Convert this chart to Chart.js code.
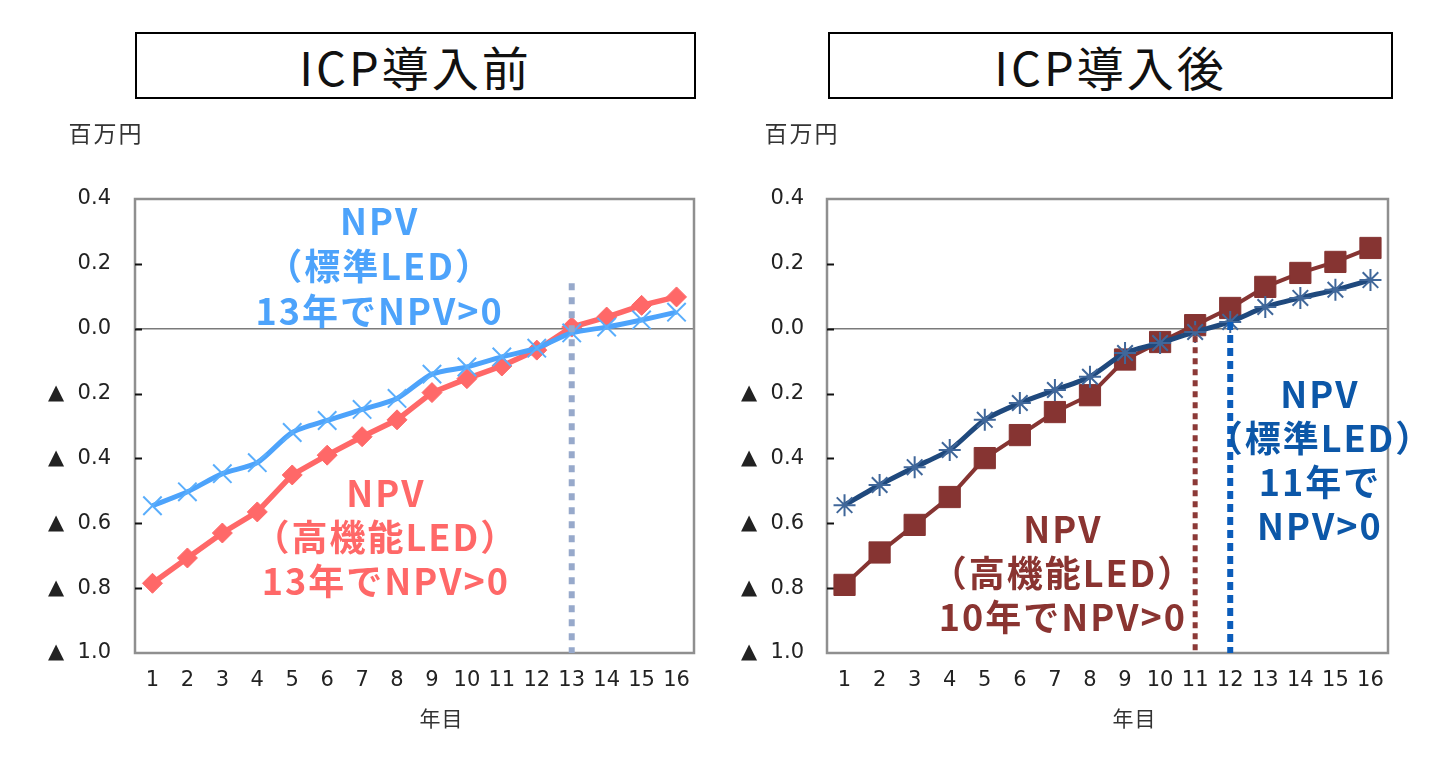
<!DOCTYPE html>
<html lang="ja">
<head>
<meta charset="utf-8">
<title>ICP導入前後のNPV</title>
<script src="https://cdn.jsdelivr.net/npm/chart.js@4.4.1/dist/chart.umd.min.js"></script>
<style>
    body { margin: 0; width: 1444px; height: 759px; background: #fff; position: relative; overflow: hidden;
           font-family: "Noto Sans CJK JP", sans-serif; }
    .title-box { position: absolute; top: 32px; height: 67px; box-sizing: border-box; border: 2px solid #000;
                 display: flex; align-items: center; justify-content: center; font-size: 47px; letter-spacing: 3px;
                 color: #111; }
    canvas { position: absolute; top: 0; }
</style>
</head>
<body>
<div class="title-box" style="left:135px; width:561px;">ICP導入前</div>
<div class="title-box" style="left:828px; width:565px;">ICP導入後</div>
<canvas id="beforeChart" width="722" height="759" style="left:0"></canvas>
<canvas id="afterChart" width="722" height="759" style="left:722px"></canvas>
<script>
// data (百万円)
const years = ['1','2','3','4','5','6','7','8','9','10','11','12','13','14','15','16'];
const yTickValues = [0.4, 0.2, 0, -0.2, -0.4, -0.6, -0.8, -1.0];

// ICP導入前
const beforeStandard = [-0.546, -0.503, -0.447, -0.413, -0.32, -0.283, -0.249, -0.215, -0.14, -0.118, -0.087, -0.06, -0.013, 0.005, 0.027, 0.051];
const beforeHighPerf = [-0.785, -0.707, -0.63, -0.565, -0.451, -0.39, -0.333, -0.281, -0.197, -0.154, -0.115, -0.066, 0.005, 0.036, 0.072, 0.098];

// ICP導入後
const afterStandard = [-0.544, -0.482, -0.427, -0.374, -0.281, -0.229, -0.189, -0.148, -0.075, -0.044, -0.01, 0.021, 0.067, 0.095, 0.12, 0.15];
const afterHighPerf = [-0.79, -0.69, -0.605, -0.519, -0.399, -0.328, -0.257, -0.205, -0.095, -0.041, 0.011, 0.064, 0.129, 0.172, 0.206, 0.249];

const tickFont = { family: '"DejaVu Sans", Verdana, sans-serif', size: 21 };
const noteFont = 'bold 36px "Noto Sans CJK JP", sans-serif';

// frame, inner ticks, guides, notes, unit labels
const decorPlugin = {
    id: 'decor',
    beforeDatasetsDraw(chart, args, opts) {
        const { ctx, chartArea: a, scales: { y } } = chart;
        ctx.save();
        ctx.strokeStyle = '#8f8f8f';
        ctx.lineWidth = 2.5;
        ctx.strokeRect(a.left, a.top, a.right - a.left, a.bottom - a.top);
        ctx.strokeStyle = '#111';
        ctx.lineWidth = 2;
        yTickValues.slice(1, -1).forEach(v => {
            const py = Math.round(y.getPixelForValue(v)) + 0.5;
            ctx.beginPath();
            ctx.moveTo(a.left, py);
            ctx.lineTo(a.left + 7, py);
            ctx.stroke();
        });
        ctx.restore();
    },
    afterDatasetsDraw(chart, args, opts) {
        const { ctx, chartArea: a, scales: { x, y } } = chart;
        ctx.save();
        (opts.guides || []).forEach(g => {
            const px = x.getPixelForValue(g.index);
            ctx.strokeStyle = g.color;
            ctx.lineWidth = g.width;
            ctx.setLineDash(g.dash);
            ctx.beginPath();
            ctx.moveTo(px, y.getPixelForValue(g.from));
            ctx.lineTo(px, a.bottom);
            ctx.stroke();
        });
        ctx.setLineDash([]);
        ctx.font = noteFont;
        ctx.letterSpacing = '2px';
        ctx.textAlign = 'center';
        ctx.textBaseline = 'middle';
        (opts.notes || []).forEach(n => {
            ctx.fillStyle = n.color;
            const cx = x.getPixelForValue(n.index);
            const cy = y.getPixelForValue(n.value);
            n.lines.forEach((line, i) => ctx.fillText(line, cx, cy + i * n.gap));
        });
        ctx.fillStyle = '#333';
        ctx.font = '23px "Noto Sans CJK JP", sans-serif';
        ctx.letterSpacing = '2px';
        ctx.fillText('百万円', a.left - opts.unitShift, 133);
        ctx.font = '21px "Noto Sans CJK JP", sans-serif';
        ctx.letterSpacing = '1px';
        ctx.fillText('年目', (a.left + a.right) / 2 + 27, 718);
        ctx.restore();
    }
};

function makeChart(canvasId, datasets, axisWidth, rightPad, labelPad, decor) {
    return new Chart(document.getElementById(canvasId), {
        type: 'line',
        data: { labels: years, datasets: datasets },
        options: {
            responsive: false,
            animation: false,
            layout: { padding: { top: 199, right: rightPad, bottom: 0, left: 0 } },
            plugins: { legend: { display: false }, tooltip: { enabled: false }, decor: decor },
            scales: {
                x: {
                    offset: true,
                    grid: { display: false, drawTicks: false },
                    border: { display: false },
                    ticks: { color: '#222', font: tickFont, padding: 15, maxRotation: 0, autoSkip: false },
                    afterFit: s => { s.height = 106; }
                },
                y: {
                    min: -1.0,
                    max: 0.4,
                    afterBuildTicks: s => { s.ticks = yTickValues.map(v => ({ value: v })); },
                    grid: {
                        drawTicks: false,
                        lineWidth: 1.5,
                        color: c => Math.abs(c.tick.value) < 1e-9 ? '#7a7a7a' : 'rgba(0,0,0,0)'
                    },
                    border: { display: false },
                    ticks: {
                        color: '#222', font: tickFont, padding: labelPad,
                        callback: v => v < -1e-9 ? '▲  ' + Math.abs(v).toFixed(1) : Math.abs(v).toFixed(1)
                    },
                    afterFit: s => { s.width = axisWidth; }
                }
            }
        },
        plugins: [decorPlugin]
    });
}

makeChart('beforeChart', [
    {
        label: 'NPV(標準LED)', data: beforeStandard,
        borderColor: '#4da3fb', backgroundColor: '#4da3fb', borderWidth: 5, tension: 0.25,
        pointStyle: 'crossRot', pointRadius: 13, pointBorderWidth: 2, pointBorderColor: '#5aaefc'
    },
    {
        label: 'NPV(高機能LED)', data: beforeHighPerf,
        borderColor: '#ff6868', backgroundColor: '#ff6868', borderWidth: 5.5, tension: 0,
        pointStyle: 'rectRot', pointRadius: 10, pointBorderWidth: 1
    }
], 135, 28, 24, {
    unitShift: 29,
    guides: [{ index: 12, from: 0.14, color: '#97a9cb', width: 6, dash: [7, 7] }],
    notes: [
        { index: 6.5, value: 0.332, gap: 45, color: '#4da3fb', lines: ['NPV', '（標準LED）', '13年でNPV>0'] },
        { index: 6.68, value: -0.507, gap: 44, color: '#ff6868', lines: ['NPV', '（高機能LED）', '13年でNPV>0'] }
    ]
});

makeChart('afterChart', [
    {
        label: 'NPV(標準LED)', data: afterStandard,
        borderColor: '#1f497d', backgroundColor: '#1f497d', borderWidth: 5, tension: 0.25,
        pointStyle: 'star', pointRadius: 11, pointBorderWidth: 2, pointBorderColor: '#40679a'
    },
    {
        label: 'NPV(高機能LED)', data: afterHighPerf,
        borderColor: '#863432', backgroundColor: '#863432', borderWidth: 4, tension: 0,
        pointStyle: 'rect', pointRadius: 15, pointBorderWidth: 1
    }
], 105, 56, 23, {
    unitShift: 25,
    guides: [
        { index: 10, from: afterHighPerf[10], color: '#8c3937', width: 5, dash: [6, 5] },
        { index: 11, from: afterStandard[11], color: '#0b5cba', width: 6, dash: [8, 5] }
    ],
    notes: [
        { index: 6.23, value: -0.618, gap: 44, color: '#8a3431', lines: ['NPV', '（高機能LED）', '10年でNPV>0'] },
        { index: 13.56, value: -0.202, gap: 44, color: '#0c57a8', lines: ['NPV', '（標準LED）', '11年で', 'NPV>0'] }
    ]
});
</script>
</body>
</html>
